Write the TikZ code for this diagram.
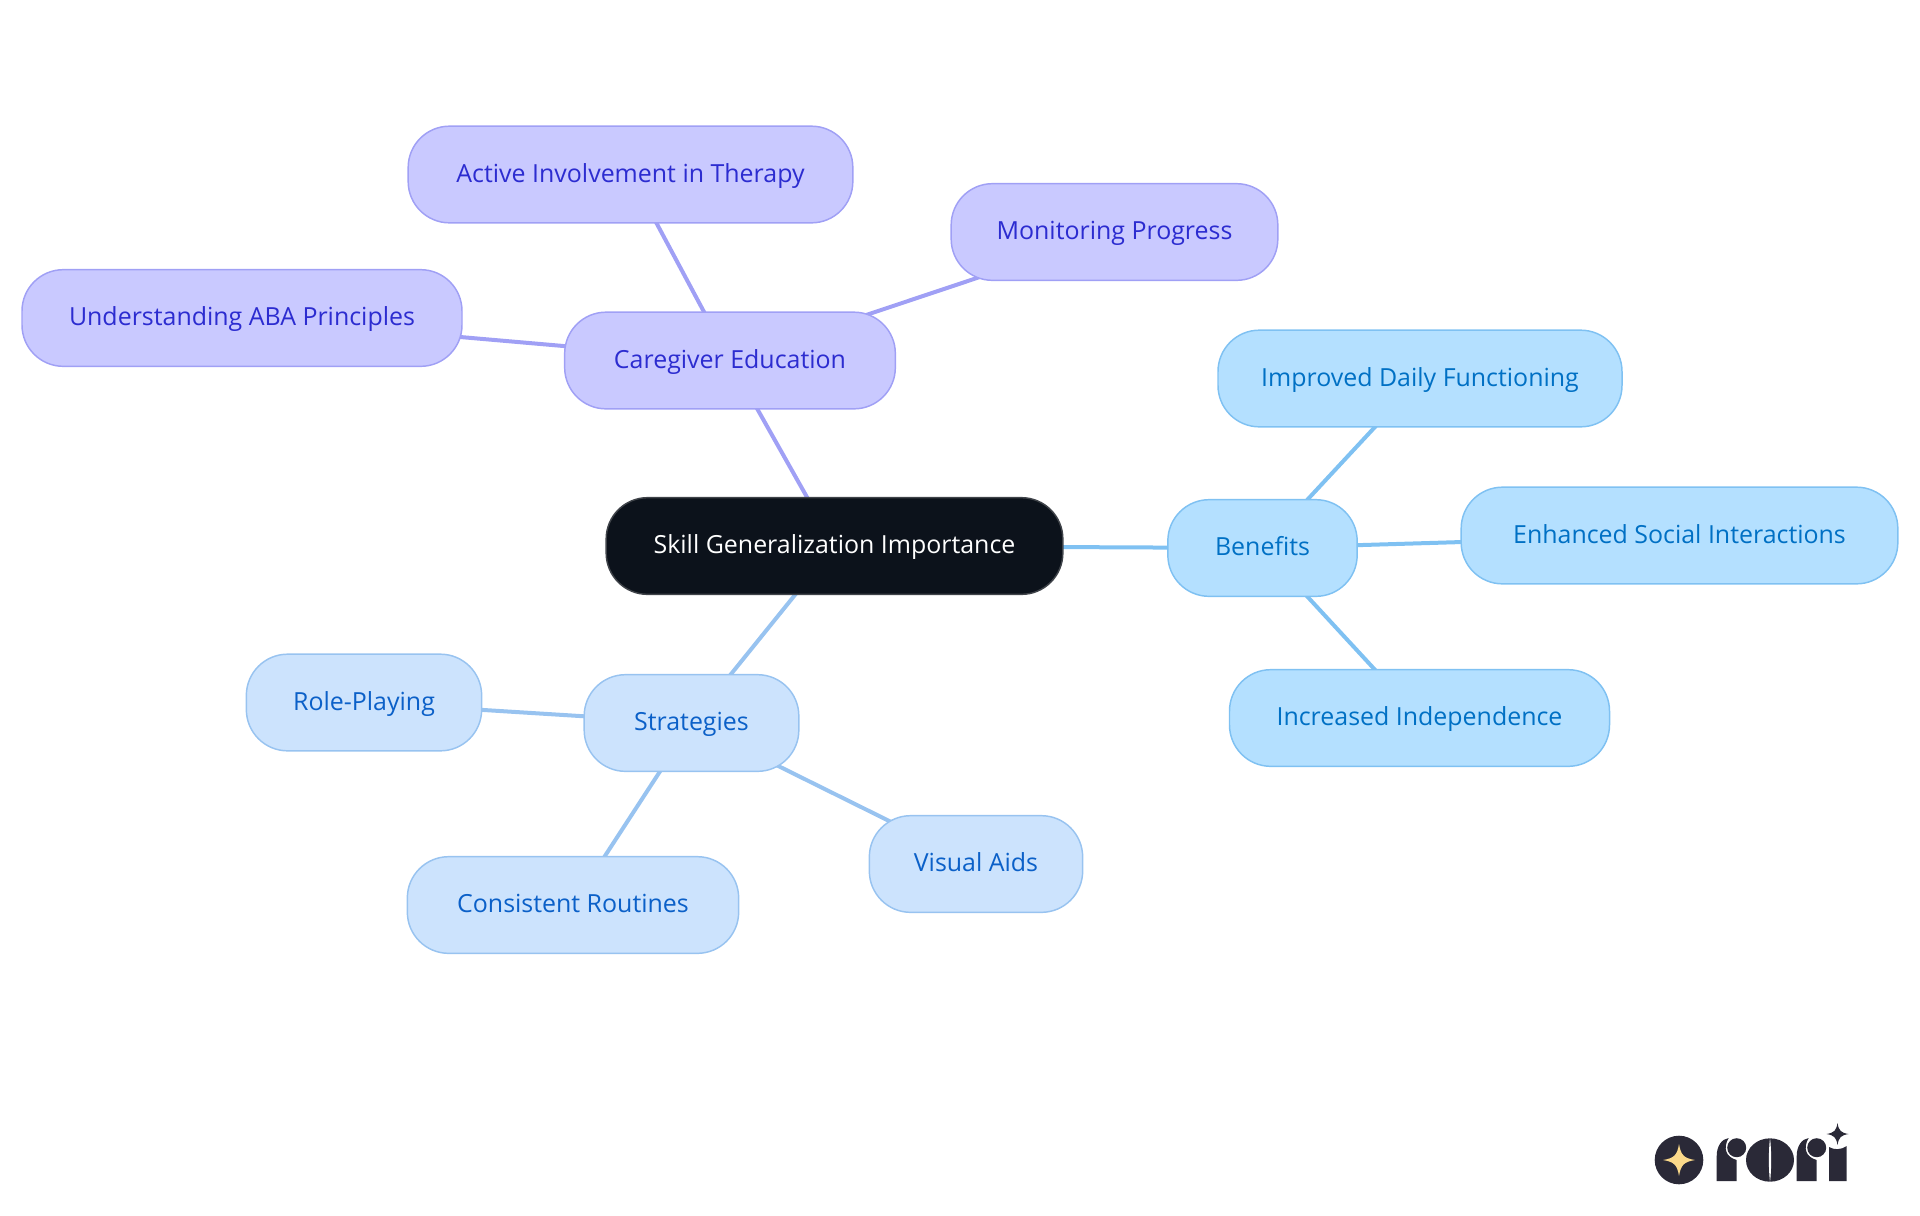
\documentclass[tikz,border=0pt]{standalone}
\usepackage{fontspec}
\setmainfont{Open Sans}
\usetikzlibrary{backgrounds}
\definecolor{rootfill}{HTML}{0C121B}
\definecolor{rootline}{HTML}{3F4349}
\definecolor{carefill}{HTML}{C9C9FF}
\definecolor{careline}{HTML}{A0A0F5}
\definecolor{caretext}{HTML}{2C2CD0}
\definecolor{benefill}{HTML}{B4E0FF}
\definecolor{beneline}{HTML}{7FC1F2}
\definecolor{benetext}{HTML}{0070C4}
\definecolor{stratfill}{HTML}{CCE3FD}
\definecolor{stratline}{HTML}{98C3F0}
\definecolor{strattext}{HTML}{0B60C8}
\definecolor{logodark}{HTML}{2A2937}
\definecolor{logostar}{HTML}{FBD98A}
\tikzset{
  mapnode/.style={rounded corners=31pt,line width=1.1pt,minimum height=72.5pt,inner sep=0pt,
    text height=15pt,text depth=3.3pt,font=\fontsize{18.7}{22}\selectfont},
  rootnode/.style={mapnode,draw=rootline,fill=rootfill,text=white},
  carenode/.style={mapnode,draw=careline,fill=carefill,text=caretext},
  benenode/.style={mapnode,draw=beneline,fill=benefill,text=benetext},
  stratnode/.style={mapnode,draw=stratline,fill=stratfill,text=strattext},
  careedge/.style={draw=careline,line width=3pt},
  beneedge/.style={draw=beneline,line width=3pt},
  stratedge/.style={draw=stratline,line width=3pt},
}
% four pointed star of the logo
\newcommand{\logospark}[4]{
  \fill [#4,shift={(#1,#2)}] (0,-#3) .. controls ({0.12*#3},{-0.3*#3}) and ({0.3*#3},{-0.12*#3}) .. (#3,0)
    .. controls ({0.3*#3},{0.12*#3}) and ({0.12*#3},{0.3*#3}) .. (0,#3)
    .. controls ({-0.12*#3},{0.3*#3}) and ({-0.3*#3},{0.12*#3}) .. (-#3,0)
    .. controls ({-0.3*#3},{-0.12*#3}) and ({-0.12*#3},{-0.3*#3}) .. (0,-#3) -- cycle;
}
% the r of the logo, x is the left of its stem
\newcommand{\logoletter}[1]{
  \fill [logodark,shift={(#1,0)}] (0,1181) -- (0,1156) .. controls (0,1146) and (5,1139) .. (12,1138)
    .. controls (6,1148) and (9,1157) .. (20,1160) -- (20,1181) -- cycle;
  \fill [logodark] (#1+20,1147.7) circle (9.5);
}
\begin{document}
\begin{tikzpicture}[x=0.75pt,y=-0.75pt]
\useasboundingbox (0,0) rectangle (1920,1215);
\node [rootnode,minimum width=342.5pt] (root) at (834.5,546) {Skill Generalization Importance};
\node [carenode,minimum width=248pt] (care) at (730,360.5) {Caregiver Education};
\node [carenode,minimum width=333.5pt] (active) at (630.5,174.5) {Active Involvement in Therapy};
\node [carenode,minimum width=245pt] (monitor) at (1114.5,232) {Monitoring Progress};
\node [carenode,minimum width=330pt] (aba) at (242,318) {Understanding ABA Principles};
\node [benenode,minimum width=142pt] (bene) at (1262.5,548) {Benefits};
\node [benenode,minimum width=303pt] (daily) at (1420,378.5) {Improved Daily Functioning};
\node [benenode,minimum width=327.5pt] (social) at (1679.5,535.5) {Enhanced Social Interactions};
\node [benenode,minimum width=285pt] (indep) at (1419.5,718) {Increased Independence};
\node [stratnode,minimum width=161pt] (strat) at (691.5,723) {Strategies};
\node [stratnode,minimum width=176.5pt] (role) at (364,702.5) {Role-Playing};
\node [stratnode,minimum width=160pt] (visual) at (976,864) {Visual Aids};
\node [stratnode,minimum width=248.5pt] (routine) at (573,905) {Consistent Routines};
\begin{pgfonlayer}{background}
\draw [careedge] (root.center) -- (care.center);
\draw [careedge] (care.center) -- (active.center);
\draw [careedge] (care.center) -- (monitor.center);
\draw [careedge] (care.center) -- (aba.center);
\draw [beneedge] (root.center) -- (bene.center);
\draw [beneedge] (bene.center) -- (daily.center);
\draw [beneedge] (bene.center) -- (social.center);
\draw [beneedge] (bene.center) -- (indep.center);
\draw [stratedge] (root.center) -- (strat.center);
\draw [stratedge] (strat.center) -- (role.center);
\draw [stratedge] (strat.center) -- (visual.center);
\draw [stratedge] (strat.center) -- (routine.center);
\end{pgfonlayer}
% logo
\fill [logodark] (1679,1160) circle (24.3);
\logospark{1679}{1160}{16}{logostar}
\logoletter{1716.7}
\fill [logodark] (1770,1160) ellipse (24 and 21.7);
\fill [white] (1770,1138) .. controls (1768.5,1150) and (1768.5,1170) .. (1770,1182)
  .. controls (1771.5,1170) and (1771.5,1150) .. (1770,1138) -- cycle;
\logoletter{1796.7}
\fill [logodark] (1829,1181) -- (1829,1147) .. controls (1834,1150) and (1841,1150) .. (1846.7,1146) -- (1846.7,1181) -- cycle;
\logospark{1837.5}{1134}{11}{logodark}
\end{tikzpicture}
\end{document}
